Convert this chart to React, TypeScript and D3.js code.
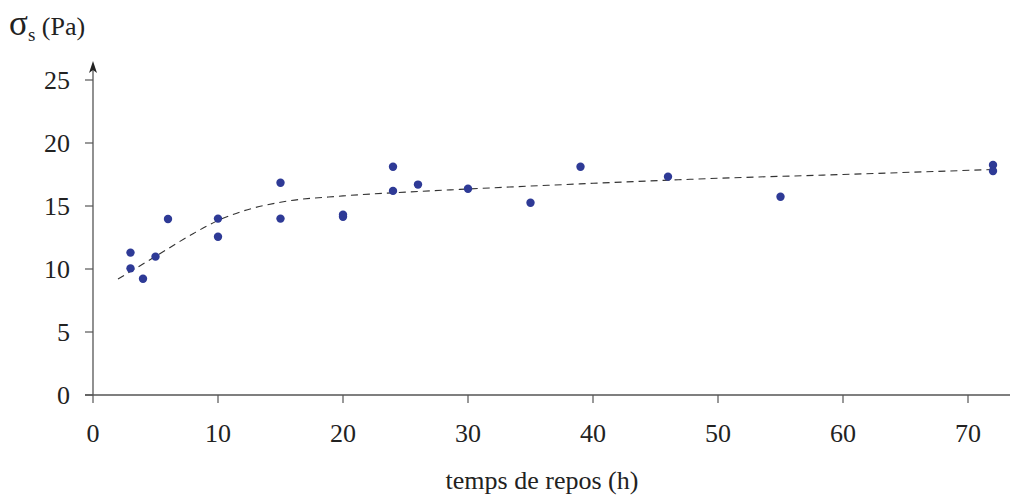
import React from "react";
import * as d3 from "d3";

const pointHours = [3, 3, 4, 5, 6, 10, 10, 15, 15, 20, 20, 24, 24, 26, 30, 35, 39, 46, 55, 72, 72];
const pointStress = [11.3, 10.05, 9.23, 10.98, 13.97, 14.0, 12.56, 16.85, 14.0, 14.3, 14.15, 18.12, 16.2, 16.7, 16.37, 15.26, 18.12, 17.33, 15.74, 18.25, 17.78];
const fitHours = [2, 5, 8, 10, 12, 15, 20, 25, 30, 40, 50, 60, 72];
const fitStress = [9.2, 11.0, 12.8, 13.85, 14.6, 15.3, 15.8, 16.1, 16.35, 16.8, 17.2, 17.5, 17.9];
const xTicks = [0, 10, 20, 30, 40, 50, 60, 70];
const yTicks = [0, 5, 10, 15, 20, 25];

export default function App() {
  const W = 1012, H = 496;
  const x = d3.scaleLinear().domain([0, 70]).range([93, 968]);
  const y = d3.scaleLinear().domain([0, 25]).range([395, 80]);
  const font = "Liberation Serif, DejaVu Serif, Times New Roman, serif";
  const line = d3.line<number>()
    .x((_, i) => x(fitHours[i]))
    .y((d) => y(d))
    .curve(d3.curveMonotoneX);
  const axisColor = "#555";
  const ts = { fontFamily: font, fontSize: 26, fill: "#222" } as React.CSSProperties;
  return (
    <svg width={W} height={H} style={{ position: "absolute", left: 0, top: 0, fontFamily: font }}>
      <rect width={W} height={H} fill="#fff" />
      <line x1={x(0)} x2={x(0)} y1={y(0)} y2={68} stroke={axisColor} strokeWidth={1.3} />
      <path d={`M${x(0)},61 L${x(0) - 4},73 L${x(0)},70 L${x(0) + 4},73 Z`} fill="#222" />
      {yTicks.map((t) => (
        <g key={"y" + t}>
          <line x1={x(0) - 8} x2={x(0)} y1={y(t)} y2={y(t)} stroke={axisColor} strokeWidth={1.2} />
          <text x={70} y={y(t) + 8.5} textAnchor="end" style={ts}>{t}</text>
        </g>
      ))}
      <line x1={x(0) - 8} x2={1010} y1={y(0)} y2={y(0)} stroke={axisColor} strokeWidth={1.3} />
      {xTicks.map((t) => (
        <g key={"x" + t}>
          <line x1={x(t)} x2={x(t)} y1={y(0)} y2={y(0) + 8} stroke={axisColor} strokeWidth={1.2} />
          <text x={x(t)} y={442} textAnchor="middle" style={ts}>{t}</text>
        </g>
      ))}
      <text x={542} y={489} textAnchor="middle" style={ts}>temps de repos (h)</text>
      <text x={9} y={35} style={ts}>
        <tspan style={{ fontSize: 35 }}>σ</tspan>
        <tspan style={{ fontSize: 19 }} dy={6}>s</tspan>
        <tspan dy={-6}> (Pa)</tspan>
      </text>
      <path d={line(fitStress) || ""} fill="none" stroke="#333" strokeWidth={1.1} strokeDasharray="7,5" />
      {pointHours.map((h, i) => (
        <circle key={"p" + i} cx={x(h)} cy={y(pointStress[i])} r={4.2} fill="#2e3a96" />
      ))}
    </svg>
  );
}
